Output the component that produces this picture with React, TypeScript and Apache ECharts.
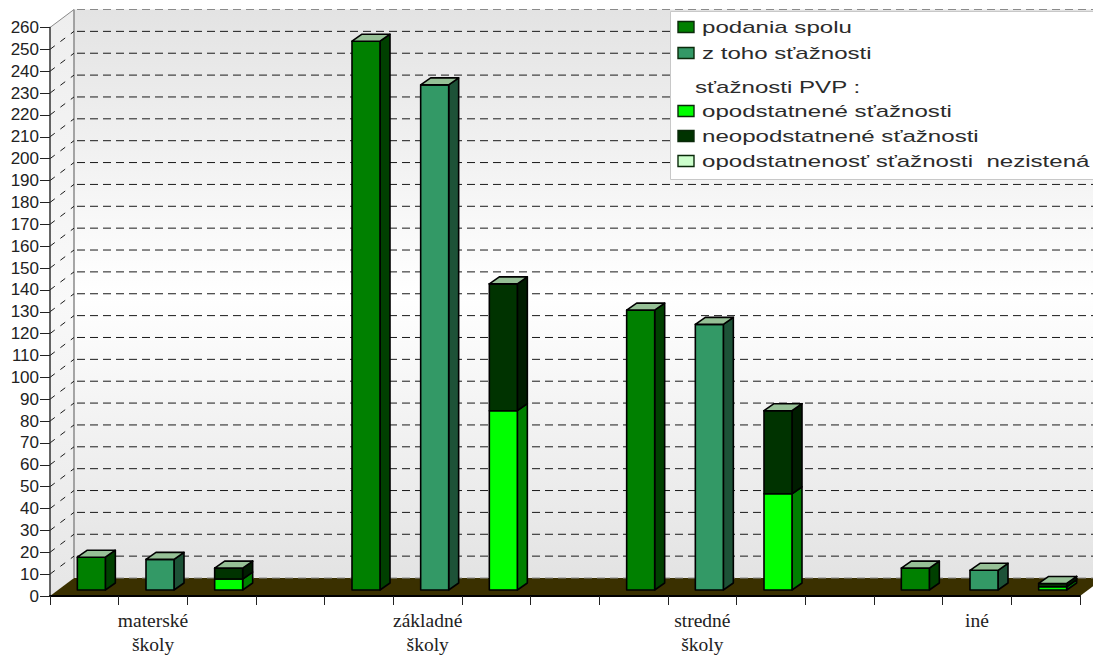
import React, { useEffect, useRef } from "react";
import * as echarts from "echarts";

const xLabels = ["", "materské\nškoly", "", "", "", "základné\nškoly", "", "", "", "stredné\nškoly", "", "", "", "iné", ""];
const yTicks = Array.from({ length: 27 }, (_, i) => i * 10);

// [slot on the category axis, lower value, upper value]
const podaniaSpolu = [[0, 0, 15], [4, 0, 251], [8, 0, 128], [12, 0, 10]];
const zTohoStaznosti = [[1, 0, 14], [5, 0, 231], [9, 0, 121.5], [13, 0, 9]];
const opodstatnene = [[2, 0, 5], [6, 0, 82], [10, 0, 44], [14, 0, 1.5]];
const neopodstatnene = [[2, 5, 10], [6, 82, 140], [10, 44, 82], [14, 1.5, 3]];
const nezistena = [[2, 10, 10], [6, 140, 140], [10, 82, 82], [14, 3, 3]];

const legendRows = [
  { label: "podania spolu", color: "#008000", y: 27 },
  { label: "z toho sťažnosti", color: "#339966", y: 53 },
  { label: "sťažnosti PVP :", color: null, y: 87 },
  { label: "opodstatnené sťažnosti", color: "#00ff00", y: 111 },
  { label: "neopodstatnené sťažnosti", color: "#003300", y: 136 },
  { label: "opodstatnenosť sťažnosti  nezistená", color: "#ccffcc", y: 161 },
];

const WALL = { dx: 24, dy: -18 };
const BAR = { front: { dx: 7, dy: -6 }, width: 28, dx: 10, dy: -7 };
const TOP_COLOR = "#96c096";

function wallGradient(a: string, b: string, c: string) {
  return new echarts.graphic.LinearGradient(0, 0, 0, 1, [
    { offset: 0, color: a },
    { offset: 0.5, color: b },
    { offset: 1, color: c },
  ]);
}

function backdropItem(_params: any, api: any) {
  const bl = api.coord([0, 0]);
  const size = api.size([1, 0]);
  const left = bl[0] - size[0] / 2;
  const right = api.coord([14, 0])[0] + size[0] / 2;
  const y0 = bl[1];
  const yTop = api.coord([0, 260])[1];
  const dx = WALL.dx;
  const dy = WALL.dy;
  const children: any[] = [
    {
      type: "polygon",
      shape: { points: [[left + dx, yTop + dy], [right + dx, yTop + dy], [right + dx, y0 + dy], [left + dx, y0 + dy]] },
      style: { fill: wallGradient("#e3e3e3", "#ffffff", "#e3e3e3") },
    },
    {
      type: "polygon",
      shape: { points: [[left, y0], [left + dx, y0 + dy], [left + dx, yTop + dy], [left, yTop]] },
      style: { fill: wallGradient("#eeeeee", "#f9f9f9", "#e6e6e6") },
    },
    {
      type: "polygon",
      shape: { points: [[left, y0], [right, y0], [right + dx, y0 + dy], [left + dx, y0 + dy]] },
      style: { fill: "#3a3000" },
    },
    {
      type: "line",
      shape: { x1: left + dx, y1: yTop + dy, x2: left + dx, y2: y0 + dy },
      style: { stroke: "#8a8a8a", lineWidth: 1.5 },
    },
    {
      type: "line",
      shape: { x1: left, y1: yTop, x2: left + dx, y2: yTop + dy },
      style: { stroke: "#8a8a8a", lineWidth: 1 },
    },
  ];
  yTicks.forEach((v) => {
    const y = api.coord([0, v])[1];
    const isEdge = v === 0 || v === 260;
    children.push({
      type: "line",
      shape: { x1: left + dx, y1: y + dy, x2: right + dx, y2: y + dy },
      style: { stroke: isEdge ? "#8a8a8a" : "#1a1a1a", lineWidth: 1, lineDash: [8, 5], lineDashOffset: -3 },
    });
    if (v !== 260 && v !== 0) {
      children.push({
        type: "line",
        shape: { x1: left, y1: y, x2: left + dx, y2: y + dy },
        style: { stroke: "#1a1a1a", lineWidth: 1, lineDash: [6, 7] },
      });
    }
  });
  return { type: "group", children };
}

function barItem(front: string, side: string, cap: boolean) {
  return (_params: any, api: any) => {
    const slot = api.value(0);
    const low = api.coord([slot, api.value(1)]);
    const high = api.coord([slot, api.value(2)]);
    const x0 = low[0] + BAR.front.dx - BAR.width / 2;
    const x1 = x0 + BAR.width;
    const yLow = low[1] + BAR.front.dy;
    const yHigh = high[1] + BAR.front.dy;
    const ddx = BAR.dx;
    const ddy = BAR.dy;
    const line = { stroke: "#000", lineWidth: 1.6, lineJoin: "round" };
    const children: any[] = [
      {
        type: "polygon",
        shape: { points: [[x1, yLow], [x1 + ddx, yLow + ddy], [x1 + ddx, yHigh + ddy], [x1, yHigh]] },
        style: { fill: side, ...line },
      },
      {
        type: "polygon",
        shape: { points: [[x0, yLow], [x1, yLow], [x1, yHigh], [x0, yHigh]] },
        style: { fill: front, ...line },
      },
    ];
    if (cap) {
      children.push({
        type: "polygon",
        shape: { points: [[x0, yHigh], [x1, yHigh], [x1 + ddx, yHigh + ddy], [x0 + ddx, yHigh + ddy]] },
        style: { fill: TOP_COLOR, ...line },
      });
    }
    return { type: "group", children };
  };
}

function barSeries(name: string, data: number[][], front: string, side: string, cap: boolean, z: number) {
  return {
    type: "custom",
    name,
    data,
    z,
    silent: true,
    encode: { x: 0, y: [1, 2] },
    itemStyle: { color: front },
    renderItem: barItem(front, side, cap),
  };
}

function legendGraphics() {
  const items: any[] = [
    {
      type: "rect",
      z: 100,
      shape: { x: 670.5, y: 11.5, width: 440, height: 168 },
      style: { fill: "#ffffff", stroke: "#c8c8c8", lineWidth: 1 },
    },
  ];
  legendRows.forEach((row) => {
    if (row.color) {
      items.push({
        type: "rect",
        z: 101,
        shape: { x: 678, y: row.y - 5.5, width: 16, height: 11 },
        style: { fill: row.color, stroke: "#0a2a0a", lineWidth: 1.4 },
      });
    }
    items.push({
      type: "text",
      z: 101,
      x: row.color ? 702 : 695,
      y: row.y,
      scaleX: 1.505,
      style: {
        text: row.label,
        font: '16px "Liberation Sans"',
        fill: "#2b2b2b",
        verticalAlign: "middle",
        align: "left",
      },
    });
  });
  return items;
}

export default function App() {
  const ref = useRef<HTMLDivElement>(null);
  useEffect(() => {
    const chart = echarts.init(ref.current!, undefined, { renderer: "svg" });
    chart.setOption({
      animation: false,
      backgroundColor: "#ffffff",
      grid: { left: 50, top: 27.5, width: 1030, height: 568.5, containLabel: false, outerBoundsMode: "none" },
      xAxis: {
        type: "category",
        data: xLabels,
        z: 5,
        boundaryGap: true,
        axisLine: { lineStyle: { color: "#000", width: 2 } },
        axisTick: { show: true, interval: 0, alignWithLabel: false, length: 9, lineStyle: { color: "#222", width: 1 } },
        axisLabel: {
          interval: 0,
          margin: 12,
          hideOverlap: false,
          fontFamily: "Liberation Serif",
          fontSize: 19.5,
          lineHeight: 24,
          color: "#222",
        },
        splitLine: { show: false },
      },
      yAxis: {
        type: "value",
        min: 0,
        max: 260,
        interval: 10,
        z: 5,
        axisLine: { show: true, lineStyle: { color: "#333", width: 1.5 } },
        axisTick: { show: true, length: 10, lineStyle: { color: "#222", width: 1 } },
        axisLabel: { margin: 11, fontFamily: "Liberation Sans", fontSize: 17, color: "#222" },
        splitLine: { show: false },
      },
      graphic: legendGraphics(),
      series: [
        { type: "custom", name: "backdrop", data: [[0, 0]], z: 1, silent: true, encode: { x: 0, y: 1 }, renderItem: backdropItem },
        barSeries("podania spolu", podaniaSpolu, "#008000", "#004000", true, 3),
        barSeries("z toho sťažnosti", zTohoStaznosti, "#339966", "#1d5237", true, 3),
        barSeries("opodstatnené sťažnosti", opodstatnene, "#00ff00", "#008000", false, 3),
        barSeries("neopodstatnené sťažnosti", neopodstatnene, "#003300", "#001c00", true, 4),
        barSeries("opodstatnenosť sťažnosti nezistená", nezistena, "#ccffcc", "#669966", false, 2),
      ],
    });
    return () => chart.dispose();
  }, []);
  return <div ref={ref} style={{ position: "absolute", left: 0, top: 0, width: 1093, height: 656 }} />;
}
